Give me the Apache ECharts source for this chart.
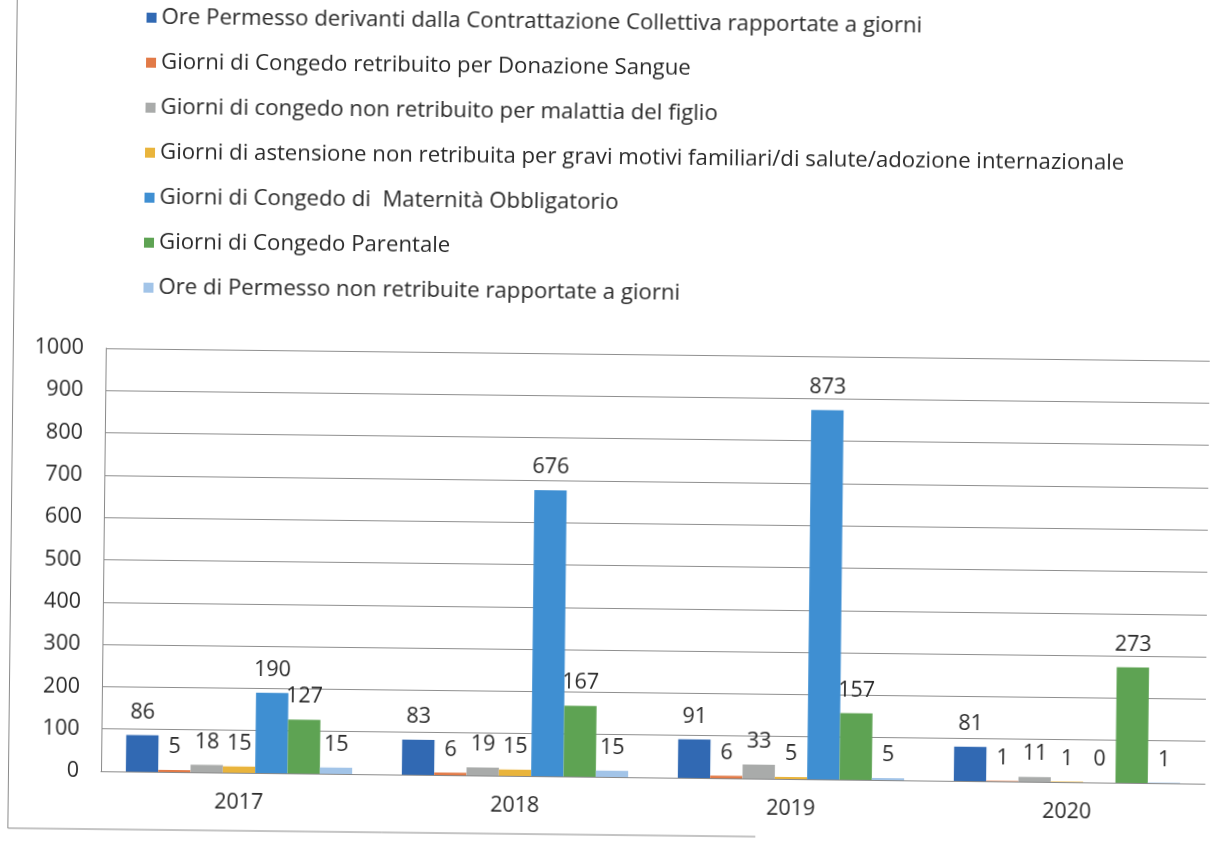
<!DOCTYPE html>
<html>
<head>
<meta charset="utf-8">
<script src="https://cdn.jsdelivr.net/npm/echarts@6/dist/echarts.min.js"></script>
<style>
  html, body { margin: 0; padding: 0; background: #ffffff; overflow: hidden; }
  #chart {
    width: 1231px; height: 843px;
    transform: rotate(0.65deg);
    transform-origin: 50% 50%;
  }
</style>
</head>
<body>
<div id="chart"></div>
<script>
// Anni di riferimento
const years = ['2017', '2018', '2019', '2020'];

// Voci di assenza (una serie per voce)
const seriesNames = [
  'Ore Permesso derivanti dalla Contrattazione Collettiva rapportate a giorni',
  'Giorni di Congedo retribuito per Donazione Sangue',
  'Giorni di congedo non retribuito per malattia del figlio',
  'Giorni di astensione non retribuita per gravi motivi familiari/di salute/adozione internazionale',
  'Giorni di Congedo di  Maternità Obbligatorio',
  'Giorni di Congedo Parentale',
  'Ore di Permesso non retribuite rapportate a giorni'
];

// Valori per anno (2017, 2018, 2019, 2020)
const orePermessoContrattazione = [86, 83, 91, 81];
const donazioneSangue = [5, 6, 6, 1];
const malattiaFiglio = [18, 19, 33, 11];
const graviMotivi = [15, 15, 5, 1];
const maternitaObbligatoria = [190, 676, 873, 0];
const congedoParentale = [127, 167, 157, 273];
const orePermessoNonRetribuite = [15, 15, 5, 1];

// Tacche dell'asse verticale
const yMin = 0;
const yMax = 1000;
const yStep = 100;

const seriesValues = [
  orePermessoContrattazione, donazioneSangue, malattiaFiglio, graviMotivi,
  maternitaObbligatoria, congedoParentale, orePermessoNonRetribuite
];
const palette = ['#3169b3', '#e27a47', '#a9abaa', '#e9b43c', '#3f8fd2', '#5ea353', '#a2c4e8'];

const FONT = '"Open Sans", Lato, sans-serif';
const TEXT = '#2a2a2a';
const NUM_SIZE = 21.5;

const chart = echarts.init(document.getElementById('chart'), null, { renderer: 'canvas' });

chart.setOption({
  backgroundColor: '#ffffff',
  animation: false,
  color: palette,
  textStyle: { fontFamily: FONT },
  legend: {
    orient: 'vertical',
    left: 137,
    top: 5,
    itemWidth: 10,
    itemHeight: 10,
    itemGap: 19,
    icon: 'rect',
    textStyle: { fontSize: 22.2, color: TEXT, fontFamily: FONT, lineHeight: 26 },
    data: seriesNames
  },
  grid: { left: 105, right: 22, top: 354, bottom: 66, containLabel: false },
  xAxis: {
    type: 'category',
    data: years,
    axisLine: { show: true, lineStyle: { color: '#8a8a8a', width: 1 } },
    axisTick: { show: false },
    axisLabel: { fontSize: NUM_SIZE, color: TEXT, fontFamily: FONT, margin: 19 }
  },
  yAxis: {
    type: 'value',
    min: yMin,
    max: yMax,
    interval: yStep,
    axisLine: { show: true, lineStyle: { color: '#8a8a8a', width: 1 } },
    axisTick: { show: false },
    axisLabel: {
      fontSize: NUM_SIZE, color: TEXT, fontFamily: FONT, margin: 22,
      formatter: (v) => String(v)
    },
    splitLine: { show: true, lineStyle: { color: '#8f8f8f', width: 1 } }
  },
  graphic: [
    {
      type: 'polyline',
      silent: true,
      shape: { points: [[12.5, -20], [12.5, 835], [760, 835]] },
      style: { stroke: '#8a8a8a', lineWidth: 1, fill: null }
    }
  ],
  series: seriesNames.map((name, i) => ({
    name: name,
    type: 'bar',
    data: seriesValues[i],
    barGap: '0%',
    barCategoryGap: '18%',
    itemStyle: { color: palette[i] },
    label: {
      show: true,
      position: 'top',
      distance: 12,
      fontSize: NUM_SIZE,
      color: TEXT,
      fontFamily: FONT
    }
  }))
});
</script>
</body>
</html>
